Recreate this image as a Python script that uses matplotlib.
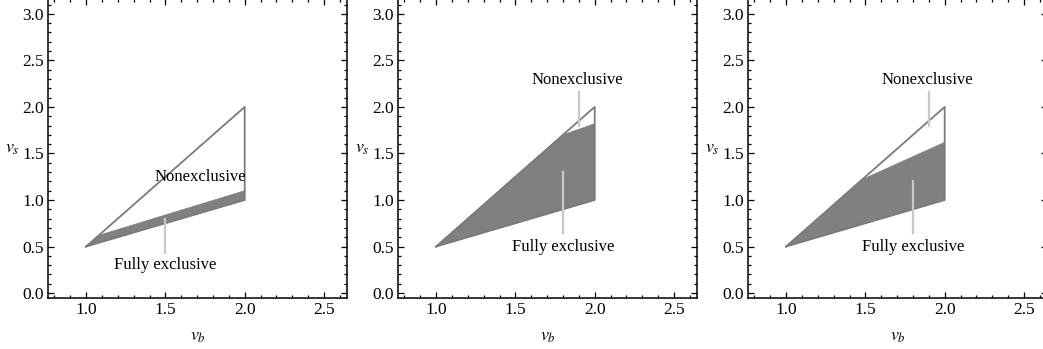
import matplotlib.pyplot as plt
from matplotlib.ticker import MultipleLocator

plt.rcParams['font.family'] = ['Liberation Serif', 'DejaVu Serif']
plt.rcParams['mathtext.fontset'] = 'stix'

# outer region: vb in [1,2], vb/2 <= vs <= 1.5*vb - 1
outer_vb = [1.0, 2.0, 2.0, 1.0]
outer_vs = [0.5, 2.0, 1.0, 0.5]

# fully exclusive region per panel (kink on the upper line, top right corner)
kink_vb = [1.08, 1.8, 1.48]
top_vs = [1.1, 1.82, 1.62]

# labels: (text x, text y, line x, line start y, line end y)
nonex_lbl = [(1.72, 1.25, None, None, None),
             (1.89, 2.29, 1.9, 1.8, 2.16),
             (1.89, 2.29, 1.9, 1.8, 2.16)]
full_lbl = [(1.5, 0.30, 1.5, 0.8, 0.43),
            (1.8, 0.50, 1.8, 1.3, 0.65),
            (1.8, 0.50, 1.8, 1.2, 0.65)]

W, H = 1043, 349
fig = plt.figure(figsize=(W / 100, H / 100), dpi=100)

for i in range(3):
    ax = fig.add_axes([(48 + 350 * i) / W, 51.3 / H, 299 / W, 298.7 / H])
    kv = kink_vb[i]
    ks = 1.5 * kv - 1
    ax.fill([1.0, kv, 2.0, 2.0, 1.0], [0.5, ks, top_vs[i], 1.0, 0.5],
            color='#808080', lw=0.5, ec='#808080', zorder=2)
    ax.plot(outer_vb, outer_vs, color='#7a7a7a', lw=1.3, zorder=3)

    tx, ty, lx, y0, y1 = nonex_lbl[i]
    if lx is not None:
        ax.plot([lx, lx], [y0, y1], color='#c8c8c8', lw=1.6, zorder=4)
    ax.text(tx, ty, 'Nonexclusive', ha='center', va='center', fontsize=12, zorder=5)
    tx, ty, lx, y0, y1 = full_lbl[i]
    ax.plot([lx, lx], [y0, y1], color='#c8c8c8', lw=1.6, zorder=4)
    ax.text(tx, ty, 'Fully exclusive', ha='center', va='center', fontsize=12, zorder=5)

    ax.set_xlim(0.76, 2.645)
    ax.set_ylim(-0.05, 3.16)
    ax.xaxis.set_minor_locator(MultipleLocator(0.1))
    ax.yaxis.set_minor_locator(MultipleLocator(0.1))
    ax.set_xticks([1.0, 1.5, 2.0, 2.5])
    ax.set_xticklabels(['1.0', '1.5', '2.0', '2.5'])
    ax.set_yticks([0.0, 0.5, 1.0, 1.5, 2.0, 2.5, 3.0])
    ax.set_yticklabels(['0.0', '0.5', '1.0', '1.5', '2.0', '2.5', '3.0'])
    ax.tick_params(which='both', direction='in', top=True, right=True,
                   labelsize=12.5, width=0.9, pad=3)
    ax.tick_params(which='major', length=4)
    ax.tick_params(which='minor', length=2)
    for s in ax.spines.values():
        s.set_linewidth(1.1)
    ax.set_xlabel('$v_b$', fontsize=13, labelpad=7)
    ax.set_ylabel('$v_s$', fontsize=13, rotation=0, labelpad=7, va='center')

fig.savefig('out.png', dpi=100)
